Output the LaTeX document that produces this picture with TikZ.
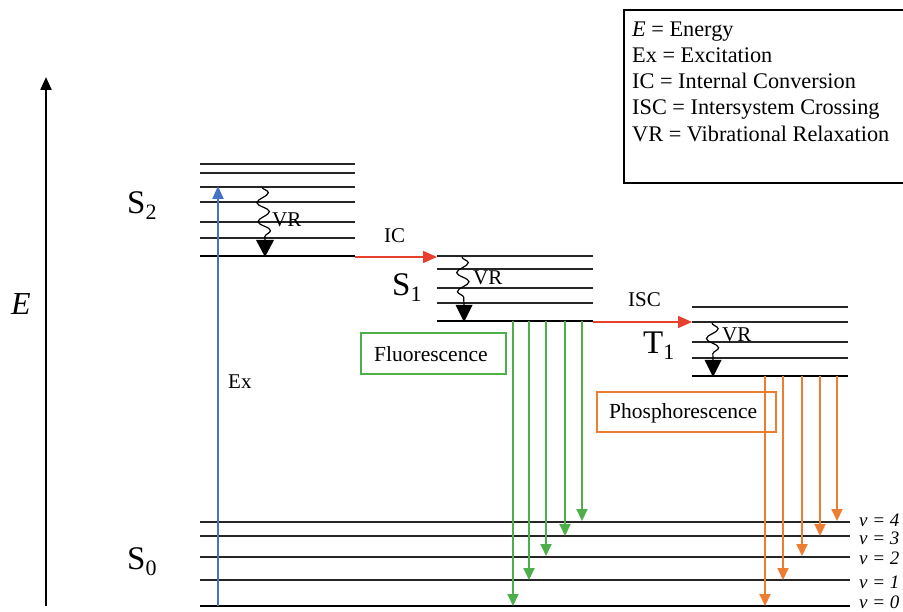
\documentclass[tikz,border=0pt]{standalone}
\usepackage{fontspec}
\setmainfont{Liberation Serif}
\usetikzlibrary{arrows.meta,decorations.pathmorphing}
\definecolor{exblue}{HTML}{4472C4}
\definecolor{icred}{HTML}{E8402F}
\definecolor{flgreen}{HTML}{4DAF4A}
\definecolor{phorange}{HTML}{ED7D31}
\newcommand{\lbl}[2]{{\fontsize{33}{33}\selectfont #1\raisebox{-6pt}{\fontsize{22}{22}\selectfont #2}}}
\tikzset{
  lvl/.style={line width=1.3pt, draw=black!85},
  ground/.style={line width=2.5pt, draw=black},
  txt/.style={font=\fontsize{21}{24}\selectfont, inner sep=0pt, anchor=base west},
  leg/.style={font=\fontsize{22.3}{24}\selectfont, inner sep=0pt, anchor=base west},
  vlab/.style={font=\fontsize{19}{20}\selectfont\itshape, inner sep=0pt, anchor=base west},
  big/.style={inner sep=0pt, anchor=base west},
  flarr/.style={draw=flgreen, line width=2pt, -{Triangle[width=11pt,length=12pt]}, color=flgreen},
  pharr/.style={draw=phorange, line width=2pt, -{Triangle[width=11pt,length=12pt]}, color=phorange},
  redarr/.style={draw=icred, line width=1.5pt, -{Triangle[width=12pt,length=14pt]}, color=icred},
  wavy/.style={draw=black, line width=1.2pt, decorate, decoration={snake, amplitude=6pt, segment length=19pt}},
}
\begin{document}
\begin{tikzpicture}[x=1pt,y=-1pt]
\useasboundingbox (0,0) rectangle (903,612);
\fill[white] (0,0) rectangle (903,612);

% Energy axis
\coordinate (Ebot) at (46,606);
\coordinate (Etop) at (46,77);
\draw[line width=2.2pt, -{Triangle[width=11pt,length=13pt]}] (Ebot) -- (Etop);
\node[big, font=\fontsize{32}{32}\selectfont\itshape] (Elab) at (11,315) {E};

% Legend
\draw[line width=1.2pt] (624,10) rectangle (910,183);
\node[leg] (l1) at (632,37) {\textit{E} = Energy};
\node[leg] (l2) at (632,63) {Ex = Excitation};
\node[leg] (l3) at (632,89) {IC = Internal Conversion};
\node[leg] (l4) at (632,115) {ISC = Intersystem Crossing};
\node[leg] (l5) at (632,142) {VR = Vibrational Relaxation};

% S2 levels
\foreach \y in {164,173,187,202,222,238} \draw[lvl] (200,\y) -- (355,\y);
\coordinate (S2L) at (200,256);
\coordinate (S2R) at (355,256);
\draw[ground] (S2L) -- (S2R);
\node[big] (S2lab) at (127,214) {\lbl{S}{2}};

% S1 levels
\foreach \y in {269,288,303} \draw[lvl] (437,\y) -- (593,\y);
\coordinate (S1topL) at (437,256);
\draw[lvl] (S1topL) -- (593,256);
\coordinate (S1L) at (437,321);
\coordinate (S1R) at (593,321);
\draw[ground] (S1L) -- (S1R);
\node[big] (S1lab) at (392,296) {\lbl{S}{1}};

% T1 levels
\foreach \y in {307,342,358} \draw[lvl] (692,\y) -- (848,\y);
\coordinate (T1secL) at (692,322);
\draw[lvl] (T1secL) -- (848,322);
\coordinate (T1L) at (692,376);
\coordinate (T1R) at (848,376);
\draw[ground] (T1L) -- (T1R);
\node[big] (T1lab) at (643,354) {\lbl{T}{1}};

% S0 levels
\foreach \y in {522,536,557,580} \draw[lvl] (200,\y) -- (850,\y);
\coordinate (S0L) at (200,606);
\coordinate (S0R) at (850,606);
\draw[ground] (S0L) -- (S0R);
\node[big] (S0lab) at (127,569) {\lbl{S}{0}};

% v labels
\node[vlab] (v4) at (859,526) {v = 4};
\node[vlab] (v3) at (859,544) {v = 3};
\node[vlab] (v2) at (859,564) {v = 2};
\node[vlab] (v1) at (859,588) {v = 1};
\node[vlab] (v0) at (859,608) {v = 0};

% Excitation
\coordinate (ExB) at (218,606);
\coordinate (ExT) at (218,186);
\draw[draw=exblue, line width=2.2pt, -{Triangle[width=11pt,length=13pt]}, color=exblue] (ExB) -- (ExT);
\node[txt] (Exlab) at (228,389) {Ex};

% IC
\coordinate (ICa) at (355,257);
\coordinate (ICb) at (437,257);
\draw[redarr] (ICa) -- (ICb);
\node[txt] (IClab) at (384,243) {IC};

% ISC
\coordinate (ISCa) at (593,322);
\coordinate (ISCb) at (692,322);
\draw[redarr] (ISCa) -- (ISCb);
\node[txt] (ISClab) at (628,307) {ISC};

% VR S2
\coordinate (vr2a) at (262,187);
\coordinate (vr2b) at (265,240);
\draw[wavy] (vr2a) -- (vr2b);
\fill (256,240) -- (274,240) -- (265,257) -- cycle;
\node[txt] (vr2lab) at (272,227) {VR};

% VR S1
\coordinate (vr1a) at (462,257);
\coordinate (vr1b) at (464,305);
\draw[wavy] (vr1a) -- (vr1b);
\fill (455.5,305) -- (472.5,305) -- (464,322) -- cycle;
\node[txt] (vr1lab) at (473,285) {VR};

% VR T1
\coordinate (vrTa) at (712,323);
\coordinate (vrTb) at (713,360);
\draw[wavy] (vrTa) -- (vrTb);
\fill (704.5,360) -- (721.5,360) -- (713,377) -- cycle;
\node[txt] (vrTlab) at (722,342) {VR};

% Fluorescence
\draw[draw=flgreen, line width=2pt] (361,333) rectangle (506,374);
\node[txt, font=\fontsize{21.5}{24}\selectfont] (flab) at (374,362) {Fluorescence};
\foreach \x/\e in {513/606, 529/580, 546/556, 565/536, 582/521}
  \draw[flarr] (\x,321) -- (\x,\e);

% Phosphorescence
\draw[draw=phorange, line width=1.3pt] (597,392) rectangle (776,432);
\node[txt, font=\fontsize{21.5}{24}\selectfont] (plab) at (609,419) {Phosphorescence};
\foreach \x/\e in {765/606, 783/580, 802/556, 820/536, 837/521}
  \draw[pharr] (\x,376) -- (\x,\e);
\end{tikzpicture}
\end{document}
